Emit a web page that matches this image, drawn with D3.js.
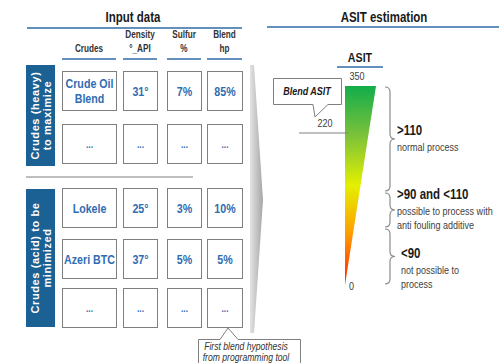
<!DOCTYPE html>
<meta charset="utf-8">
<head>
    <title>ASIT estimation</title>
</head>
<style>
    body {
        margin: 0;
        background-color: #ffffff;
    }

    svg {
        font-family: "Liberation Sans", Arial;
    }

    .title {
        font-size: 14px;
        font-weight: 700;
        fill: #1a1a1a;
    }

    .colhead {
        font-size: 10px;
        font-weight: 700;
        fill: #333333;
    }

    .cell {
        fill: #ffffff;
        stroke: #7f7f7f;
        stroke-width: 1px;
    }

    .celltext {
        font-weight: 700;
        fill: #2f6db3;
    }

    .grouplabel {
        font-size: 11px;
        font-weight: 700;
        fill: #ffffff;
        letter-spacing: 0.6px;
    }

    .tick {
        font-size: 11px;
        fill: #404040;
    }

    .range-head {
        font-size: 14px;
        font-weight: 700;
        fill: #1a1a1a;
    }

    .range-sub {
        font-size: 11px;
        fill: #404040;
    }

    .brace {
        fill: none;
        stroke: #8c8c8c;
        stroke-width: 1.2px;
    }
</style>
<body>
    <svg width="499" height="363"></svg>
</body>

<script src="https://d3js.org/d3.v7.min.js"></script>

<script>
    // ---- data ----
    var columns = ["Crudes", "Density|°_API", "Sulfur|%", "Blend|hp"];
    var groups = ["Crudes (heavy)|to maximize", "Crudes (acid) to be|minimized"];
    var rowGroup = [0, 0, 1, 1, 1];
    var crudes = ["Crude Oil|Blend", "...", "Lokele", "Azeri BTC", "..."];
    var density = ["31°", "...", "25°", "37°", "..."];
    var sulfur = ["7%", "...", "3%", "5%", "..."];
    var blendHp = ["85%", "...", "10%", "5%", "..."];

    var asitTicks = [0, 350];
    var blendAsit = 220;
    var rangeBounds = [[110, 350], [90, 110], [0, 90]];
    var rangeHeads = [">110", ">90 and <110", "<90"];
    var rangeSubs = ["normal process", "possible to process with|anti fouling additive", "not possible to|process"];

    // ---- layout ----
    var svg = d3.select("svg");
    var narrow = 0.82; // squeeze to look like Arial Narrow

    // text with a horizontal squeeze, lines split on "|"
    function ntext(parent, x, y, str, cls, anchor, lineH) {
        var g = parent.append("g")
            .attr("transform", "translate(" + x + "," + y + ") scale(" + narrow + ",1)");
        var t = g.append("text")
            .attr("class", cls)
            .attr("text-anchor", anchor || "start");
        str.split("|").forEach(function (p, j) {
            t.append("tspan").attr("x", 0).attr("y", j * (lineH || 14)).text(p);
        });
        return t;
    }

    var colX = d3.scaleOrdinal().domain(columns).range([62, 123, 167, 207]);
    var colW = d3.scaleOrdinal().domain(columns).range([54, 34, 34, 35]);
    var rowY = d3.scaleOrdinal().domain(d3.range(crudes.length)).range([71, 124, 188, 239, 288]);
    var rowH = 39;

    // piecewise scale of the (schematic) ASIT gauge
    var y = d3.scaleLinear()
        .domain([0, 90, 110, 220, 350])
        .range([285, 228, 192, 133, 86]);

    var defs = svg.append("defs");
    var grad = defs.append("linearGradient")
        .attr("id", "asitGrad")
        .attr("x1", 0).attr("y1", 0).attr("x2", 0).attr("y2", 1);
    [["0%", "#12ad4b"], ["25%", "#7cc23a"], ["50%", "#e4f000"], ["75%", "#ff9a00"], ["100%", "#ff1f00"]]
    .forEach(function (s) {
        grad.append("stop").attr("offset", s[0]).attr("stop-color", s[1]);
    });
    var grey = defs.append("linearGradient")
        .attr("id", "arrowGrad")
        .attr("x1", 0).attr("y1", 0).attr("x2", 1).attr("y2", 0);
    grey.append("stop").attr("offset", "0%").attr("stop-color", "#e3e3e3");
    grey.append("stop").attr("offset", "100%").attr("stop-color", "#a6a6a6");

    // ---- titles ----
    ntext(svg, 133, 22, "Input data", "title", "middle");
    svg.append("line").attr("x1", 27).attr("x2", 242).attr("y1", 28).attr("y2", 28)
        .attr("stroke", "#2e6aa6").attr("stroke-width", 1.5);

    ntext(svg, 384, 22, "ASIT estimation", "title", "middle");
    svg.append("line").attr("x1", 267).attr("x2", 499).attr("y1", 27).attr("y2", 27)
        .attr("stroke", "#2e6aa6").attr("stroke-width", 1.5);

    // ---- column headers ----
    columns.forEach(function (c) {
        var n = c.split("|").length;
        ntext(svg, colX(c) + colW(c) / 2, 52 - (n - 1) * 14, c, "colhead", "middle", 14);
        svg.append("line")
            .attr("x1", colX(c)).attr("x2", colX(c) + colW(c))
            .attr("y1", 59).attr("y2", 59)
            .attr("stroke", "#2e6aa6").attr("stroke-width", 1.5);
    });

    // ---- group labels ----
    var groupTop = [65, 189];
    var groupBot = [166, 327];
    groups.forEach(function (g, i) {
        svg.append("rect")
            .attr("x", 26).attr("y", groupTop[i])
            .attr("width", 29).attr("height", groupBot[i] - groupTop[i])
            .attr("fill", "#1b6193");
        var cy = (groupTop[i] + groupBot[i]) / 2;
        var t = svg.append("text")
            .attr("class", "grouplabel")
            .attr("text-anchor", "middle")
            .attr("transform", "translate(40," + cy + ") rotate(-90)");
        g.split("|").forEach(function (p, j) {
            t.append("tspan").attr("x", 0).attr("y", -1 + j * 12).text(p);
        });
    });

    svg.append("line").attr("x1", 26).attr("x2", 193).attr("y1", 177).attr("y2", 177)
        .attr("stroke", "#808080").attr("stroke-width", 1.2);

    // ---- cells ----
    var table = [crudes, density, sulfur, blendHp];
    var cells = [];
    columns.forEach(function (c, ci) {
        table[ci].forEach(function (v, ri) {
            cells.push({ col: c, row: ri, value: v });
        });
    });

    var cell = svg.selectAll("g.cellg")
        .data(cells)
        .enter()
        .append("g")
        .attr("class", "cellg");

    cell.append("rect")
        .attr("class", "cell")
        .attr("x", d => colX(d.col) + 0.5)
        .attr("y", d => rowY(d.row) + 0.5)
        .attr("width", d => colW(d.col))
        .attr("height", rowH);

    cell.each(function (d) {
        var n = d.value.split("|").length;
        var dots = d.value === "...";
        var fs = dots ? 10 : 13;
        var cx = colX(d.col) + colW(d.col) / 2 + 0.5;
        var cy = rowY(d.row) + rowH / 2 + 0.5;
        var t = ntext(d3.select(this), cx, cy + fs * 0.36 - (n - 1) * 7.5, d.value, "celltext", "middle", 15);
        t.style("font-size", fs + "px");
    });

    // ---- grey arrow ----
    svg.append("path")
        .attr("d", "M250,65 L254,65 L263,200 L254,333 L250,333 Z")
        .attr("fill", "url(#arrowGrad)");

    // ---- bottom callout ----
    svg.append("path")
        .attr("d", "M198.5,339.5 H220 L228,328 L238,339.5 H300.5 V380 H198.5 Z")
        .attr("fill", "#ffffff").attr("stroke", "#7f7f7f").attr("stroke-width", 1);
    ntext(svg, 246, 350, "First blend hypothesis|from programming tool", "note", "middle", 11)
        .style("font-size", "10.5px").style("font-style", "italic").style("fill", "#333333");

    // ---- ASIT gauge ----
    var gaugeL = 345, gaugeW = 31;
    ntext(svg, 360, 62, "ASIT", "title", "middle").style("font-size", "13px");
    svg.append("line").attr("x1", 337).attr("x2", 383).attr("y1", 67).attr("y2", 67)
        .attr("stroke", "#2e6aa6").attr("stroke-width", 1.5);

    var vTop = d3.max(asitTicks), vBottom = d3.min(asitTicks);
    svg.append("path")
        .attr("d", "M" + gaugeL + "," + y(vTop) + " L" + (gaugeL + gaugeW) + "," + y(vTop) +
            " L" + gaugeL + "," + y(vBottom) + " Z")
        .attr("fill", "url(#asitGrad)");

    asitTicks.forEach(function (d) {
        if (d === vTop) ntext(svg, 357, y(d) - 6, String(d), "tick", "middle");
        else ntext(svg, 349, y(d) + 5, String(d), "tick", "start");
    });

    // blend ASIT marker
    svg.append("line")
        .attr("x1", 299).attr("x2", gaugeL + 3)
        .attr("y1", y(blendAsit)).attr("y2", y(blendAsit))
        .attr("stroke", "#808080").attr("stroke-width", 1.2);
    ntext(svg, 325, y(blendAsit) - 6, String(blendAsit), "tick", "middle");

    svg.append("path")
        .attr("d", "M273.5,78.5 H341.5 V104.5 H328 L315,117 L313,104.5 H273.5 Z")
        .attr("fill", "#ffffff").attr("stroke", "#7f7f7f").attr("stroke-width", 1);
    ntext(svg, 307, 95, "Blend ASIT", "title", "middle")
        .style("font-size", "11px").style("font-style", "italic");

    // ---- range braces ----
    function brace(y0, y1, x) {
        var m = (y0 + y1) / 2, w = 5;
        return "M" + (x - w) + "," + y0 +
            " Q" + x + "," + y0 + " " + x + "," + (y0 + w) +
            " L" + x + "," + (m - w) +
            " Q" + x + "," + m + " " + (x + w) + "," + m +
            " Q" + x + "," + m + " " + x + "," + (m + w) +
            " L" + x + "," + (y1 - w) +
            " Q" + x + "," + y1 + " " + (x - w) + "," + y1;
    }

    var ranges = rangeBounds.map((b, i) => ({ lo: b[0], hi: b[1], head: rangeHeads[i], sub: rangeSubs[i], i: i }));

    svg.selectAll("path.brace")
        .data(ranges)
        .enter()
        .append("path")
        .attr("class", "brace")
        .attr("d", d => brace(y(d.hi) + 1, y(d.lo) - 1, 390));

    var headY = [135, 199, 258];
    var textX = [397, 397, 401];
    ranges.forEach(function (d) {
        ntext(svg, textX[d.i], headY[d.i], d.head, "range-head", "start");
        ntext(svg, textX[d.i], headY[d.i] + 16, d.sub, "range-sub", "start", 14);
    });
</script>
